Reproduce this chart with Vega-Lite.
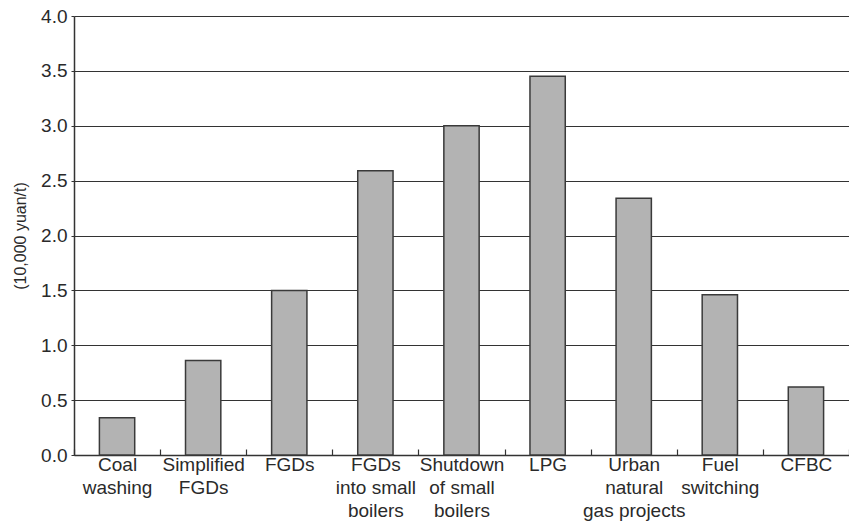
{
  "$schema": "https://vega.github.io/schema/vega-lite/v6.json",
  "width": 775,
  "height": 439,
  "autosize": "none",
  "padding": {"left": 74, "top": 16, "right": 0, "bottom": 75},
  "background": "white",
  "data": {
    "values": [
      {"measure": "Coal|washing", "cost": 0.34},
      {"measure": "Simplified|FGDs", "cost": 0.86},
      {"measure": "FGDs", "cost": 1.5},
      {"measure": "FGDs|into small|boilers", "cost": 2.59},
      {"measure": "Shutdown|of small|boilers", "cost": 3.0},
      {"measure": "LPG", "cost": 3.45},
      {"measure": "Urban|natural|gas projects", "cost": 2.34},
      {"measure": "Fuel|switching", "cost": 1.46},
      {"measure": "CFBC", "cost": 0.62}
    ]
  },
  "config": {
    "view": {"stroke": null},
    "font": "Liberation Sans"
  },
  "mark": {"type": "bar", "width": {"band": 0.41}, "fill": "#b3b3b3", "stroke": "#3a3a3a", "strokeWidth": 1.5},
  "encoding": {
    "x": {
      "field": "measure",
      "type": "nominal",
      "sort": null,
      "scale": {"paddingInner": 0, "paddingOuter": 0},
      "axis": {
        "title": null,
        "labelAngle": 0,
        "labelExpr": "split(datum.label, '|')",
        "labelFontSize": 19,
        "labelColor": "#2a2a2a",
        "labelLineHeight": 23,
        "labelPadding": 6,
        "labelBaseline": "top",
        "tickBand": "extent",
        "tickSize": -6,
        "tickColor": "#333",
        "tickWidth": 1.2,
        "domainColor": "#333",
        "domainWidth": 1.5,
        "grid": false
      }
    },
    "y": {
      "field": "cost",
      "type": "quantitative",
      "scale": {"domain": [0, 4], "nice": false},
      "axis": {
        "title": "(10,000 yuan/t)",
        "titleFontSize": 16,
        "titleFontWeight": "normal",
        "titleColor": "#2a2a2a",
        "titlePadding": 12,
        "values": [0, 0.5, 1, 1.5, 2, 2.5, 3, 3.5, 4],
        "format": ".1f",
        "labelFontSize": 19,
        "labelColor": "#2a2a2a",
        "labelPadding": 4,
        "tickSize": 3,
        "tickColor": "#333",
        "domainColor": "#333",
        "domainWidth": 1.5,
        "grid": true,
        "gridColor": "#333",
        "gridWidth": 1.2
      }
    }
  }
}
